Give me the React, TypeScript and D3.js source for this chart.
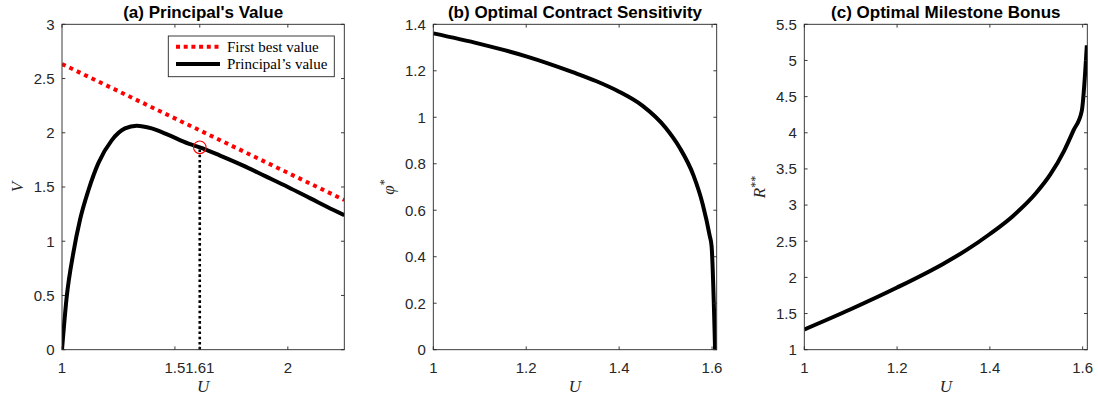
import React from "react";
import * as d3 from "d3";

// Panel (a): principal's value against the agent's promised utility U
const uPrincipal = [1.0, 1.021, 1.05, 1.08, 1.117, 1.161, 1.22, 1.279, 1.331, 1.397, 1.471, 1.56, 1.61, 1.7, 1.8, 1.9, 2.0, 2.1, 2.2, 2.25];
const vPrincipal = [0, 0.49, 0.89, 1.2, 1.47, 1.72, 1.93, 2.04, 2.065, 2.04, 1.98, 1.9, 1.866, 1.79, 1.7, 1.6, 1.5, 1.395, 1.29, 1.24];
const uFirstBest = [1.0, 2.25];
const vFirstBest = [2.634, 1.38];
const uStar = 1.61;
const vStar = 1.866;

// Panel (b): optimal contract sensitivity
const uSens = [1.0, 1.1, 1.2, 1.3, 1.35, 1.4, 1.45, 1.5, 1.53, 1.56, 1.58, 1.595, 1.599, 1.6065];
const phiSens = [1.361, 1.316, 1.262, 1.194, 1.156, 1.11, 1.05, 0.955, 0.87, 0.75, 0.625, 0.49, 0.445, 0];

// Panel (c): optimal milestone bonus
const uBonus = [1.0, 1.1, 1.2, 1.3, 1.35, 1.4, 1.45, 1.5, 1.53, 1.56, 1.58, 1.598, 1.609];
const rBonus = [1.28, 1.56, 1.86, 2.19, 2.38, 2.6, 2.85, 3.17, 3.42, 3.75, 4.03, 4.3, 5.21];

// Tick labels
const xTicksA = ["1", "1.5", "1.61", "2"];
const yTicksA = ["0", "0.5", "1", "1.5", "2", "2.5", "3"];
const xTicksBC = ["1", "1.2", "1.4", "1.6"];
const yTicksB = ["0", "0.2", "0.4", "0.6", "0.8", "1", "1.2", "1.4"];
const yTicksC = ["1", "1.5", "2", "2.5", "3", "3.5", "4", "4.5", "5", "5.5"];

const W = 1098;
const H = 401;
const TOP = 24.3;
const BOTTOM = 349.7;
const AX = "#262626";
const SANS = "'Liberation Sans', Arial, Helvetica, sans-serif";
const SERIF = "'Liberation Serif', 'Times New Roman', serif";
const TICK_LEN = 3.3;

type PanelProps = {
  id: string;
  x0: number;
  x1: number;
  xDomain: [number, number];
  yDomain: [number, number];
  xTicks: string[];
  yTicks: string[];
  title: string;
  yLabel: React.ReactNode;
  children: (x: d3.ScaleLinear<number, number>, y: d3.ScaleLinear<number, number>) => React.ReactNode;
};

function Panel({ id, x0, x1, xDomain, yDomain, xTicks, yTicks, title, yLabel, children }: PanelProps) {
  const x = d3.scaleLinear().domain(xDomain).range([x0, x1]);
  const y = d3.scaleLinear().domain(yDomain).range([BOTTOM, TOP]);
  const cx = (x0 + x1) / 2;
  const cy = (TOP + BOTTOM) / 2;
  return (
    <g>
      <defs>
        <clipPath id={`clip-${id}`}>
          <rect x={x0} y={TOP} width={x1 - x0} height={BOTTOM - TOP} />
        </clipPath>
      </defs>
      <rect x={x0} y={TOP} width={x1 - x0} height={BOTTOM - TOP} fill="#fff" />
      <g clipPath={`url(#clip-${id})`}>{children(x, y)}</g>
      {/* box and inward ticks on all four sides */}
      <rect x={x0} y={TOP} width={x1 - x0} height={BOTTOM - TOP} fill="none" stroke={AX} strokeWidth={0.9} />
      {xTicks.map((t) => {
        const px = x(+t);
        return (
          <g key={`x${t}`}>
            <line x1={px} x2={px} y1={BOTTOM} y2={BOTTOM - TICK_LEN} stroke={AX} strokeWidth={0.9} />
            <line x1={px} x2={px} y1={TOP} y2={TOP + TICK_LEN} stroke={AX} strokeWidth={0.9} />
            <text x={px} y={372.5} textAnchor="middle" fontFamily={SANS} fontSize={15} fill={AX}>
              {t}
            </text>
          </g>
        );
      })}
      {yTicks.map((t) => {
        const py = y(+t);
        return (
          <g key={`y${t}`}>
            <line x1={x0} x2={x0 + TICK_LEN} y1={py} y2={py} stroke={AX} strokeWidth={0.9} />
            <line x1={x1} x2={x1 - TICK_LEN} y1={py} y2={py} stroke={AX} strokeWidth={0.9} />
            <text x={x0 - 7.5} y={py} dy="0.36em" textAnchor="end" fontFamily={SANS} fontSize={15} fill={AX}>
              {t}
            </text>
          </g>
        );
      })}
      <text x={cx} y={17.5} textAnchor="middle" fontFamily={SANS} fontWeight="bold" fontSize={17} fill="#000">
        {title}
      </text>
      <text x={cx} y={391.5} textAnchor="middle" fontFamily={SERIF} fontStyle="italic" fontSize={17} fill={AX}>
        U
      </text>
      <text
        transform={`translate(${x0 - 39},${cy}) rotate(-90)`}
        textAnchor="middle"
        fontFamily={SERIF}
        fontSize={17}
        fill={AX}
      >
        {yLabel}
      </text>
    </g>
  );
}

export default function App() {
  const lineOf = (xs: number[], ys: number[], x: d3.ScaleLinear<number, number>, y: d3.ScaleLinear<number, number>) =>
    d3
      .line<number>()
      .x((_, i) => x(xs[i]))
      .y((d) => y(d))
      .curve(d3.curveMonotoneX)(ys) || "";

  return (
    <svg
      width={W}
      height={H}
      viewBox={`0 0 ${W} ${H}`}
      style={{ position: "absolute", left: 0, top: 0, background: "#fff" }}
    >
      <rect width={W} height={H} fill="#fff" />

      <Panel
        id="a"
        x0={62}
        x1={344.3}
        xDomain={[1, 2.25]}
        yDomain={[0, 3]}
        xTicks={xTicksA}
        yTicks={yTicksA}
        title="(a) Principal's Value"
        yLabel={<tspan fontStyle="italic">V</tspan>}
      >
        {(x, y) => (
          <>
            <path
              d={lineOf(uFirstBest, vFirstBest, x, y)}
              fill="none"
              stroke="#ff0000"
              strokeWidth={4}
              strokeDasharray="4 4.2"
            />
            <path d={lineOf(uPrincipal, vPrincipal, x, y)} fill="none" stroke="#000" strokeWidth={4} strokeLinejoin="round" />
            <line
              x1={x(uStar)}
              x2={x(uStar)}
              y1={y(0)}
              y2={y(vStar)}
              stroke="#000"
              strokeWidth={2.6}
              strokeDasharray="2.6 2.6"
            />
            <circle cx={x(uStar)} cy={y(vStar)} r={6.3} fill="none" stroke="#ff0000" strokeWidth={1.1} />
          </>
        )}
      </Panel>

      {/* legend for panel (a) */}
      <g>
        <rect x={168.3} y={36} width={166} height={40.7} fill="#fff" stroke={AX} strokeWidth={0.9} />
        <line x1={176} x2={220} y1={46.7} y2={46.7} stroke="#ff0000" strokeWidth={4} strokeDasharray="4 3.7" />
        <text x={227} y={46.7} dy="0.33em" fontFamily={SERIF} fontSize={15} fill="#000">
          First best value
        </text>
        <line x1={176} x2={220} y1={64} y2={64} stroke="#000" strokeWidth={4} />
        <text x={227} y={64} dy="0.33em" fontFamily={SERIF} fontSize={15} fill="#000">
          Principal’s value
        </text>
      </g>

      <Panel
        id="b"
        x0={433.3}
        x1={716.7}
        xDomain={[1, 1.61]}
        yDomain={[0, 1.4]}
        xTicks={xTicksBC}
        yTicks={yTicksB}
        title="(b) Optimal Contract Sensitivity"
        yLabel={
          <>
            <tspan fontStyle="italic">φ</tspan>
            <tspan dy="-6" fontSize={12}>*</tspan>
          </>
        }
      >
        {(x, y) => (
          <path d={lineOf(uSens, phiSens, x, y)} fill="none" stroke="#000" strokeWidth={4} strokeLinejoin="round" />
        )}
      </Panel>

      <Panel
        id="c"
        x0={804.3}
        x1={1087.3}
        xDomain={[1, 1.61]}
        yDomain={[1, 5.5]}
        xTicks={xTicksBC}
        yTicks={yTicksC}
        title="(c) Optimal Milestone Bonus"
        yLabel={
          <>
            <tspan fontStyle="italic">R</tspan>
            <tspan dy="-6" fontSize={12}>**</tspan>
          </>
        }
      >
        {(x, y) => (
          <path d={lineOf(uBonus, rBonus, x, y)} fill="none" stroke="#000" strokeWidth={4} strokeLinejoin="round" />
        )}
      </Panel>
    </svg>
  );
}
